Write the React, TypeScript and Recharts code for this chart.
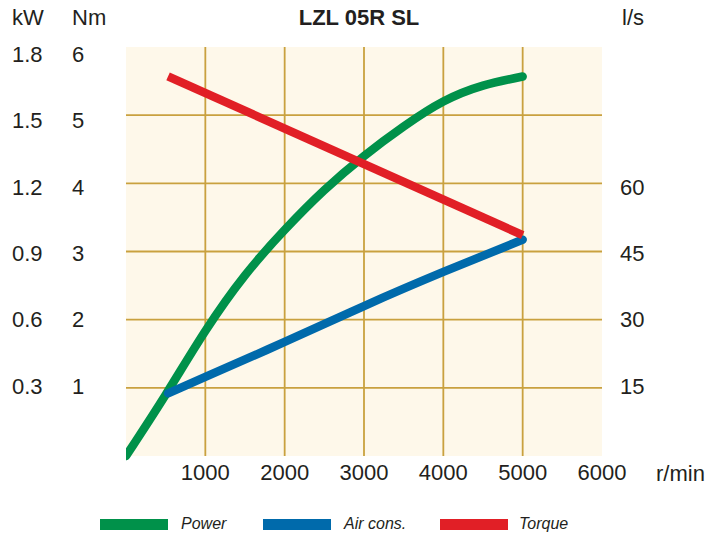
import React from "react";
import { CartesianGrid, ComposedChart, Line, XAxis, YAxis } from "recharts";

// rpm ticks and gridlines
const rpmTicks = [1000, 2000, 3000, 4000, 5000, 6000];
const rpmGrid = [1000, 2000, 3000, 4000, 5000];
const kwTicks = [0.3, 0.6, 0.9, 1.2, 1.5, 1.8];
const nmTicks = [1, 2, 3, 4, 5, 6];
const nmGrid = [1, 2, 3, 4, 5];
const lsTicks = [15, 30, 45, 60];

// Power (kW)
const powerRpm = [0, 500, 1000, 1500, 2000, 2500, 3000, 3500, 4000, 4500, 5000];
const powerKw = [0, 0.27, 0.55, 0.795, 0.995, 1.17, 1.32, 1.45, 1.56, 1.63, 1.67];

// Air consumption (l/s)
const airRpm = [530, 1000, 2000, 3000, 4000, 5000];
const airLs = [13.8, 17.4, 25.1, 33.0, 40.5, 47.6];

// Torque (Nm)
const torqueRpm = [530, 5000];
const torqueNm = [5.57, 3.24];

const powerData = powerRpm.map((rpm, i) => ({ rpm, kw: powerKw[i] }));
const airData = airRpm.map((rpm, i) => ({ rpm, ls: airLs[i] }));
const torqueData = torqueRpm.map((rpm, i) => ({ rpm, nm: torqueNm[i] }));

const FONT = '"Liberation Sans", Arial, sans-serif';
const INK = "#231f20";
const GREEN = "#00914a";
const BLUE = "#006aab";
const RED = "#e11f26";

// labels drift a little against the grid in the original
const drift = (step: number) => step * 1.8 - 1.5;

const yTick = (x: number, unit: number, fmt: (v: number) => string) => (props: any) => {
  const v = props.payload.value;
  return (
    <text
      x={x}
      y={props.y + drift(v / unit - 1)}
      dominantBaseline="central"
      textAnchor="start"
      fontFamily={FONT}
      fontSize={22}
      fill={INK}
    >
      {fmt(v)}
    </text>
  );
};

const xTick = (props: any) => (
  <text
    x={props.x}
    y={472}
    dominantBaseline="central"
    textAnchor="middle"
    fontFamily={FONT}
    fontSize={22}
    fill={INK}
  >
    {props.payload.value}
  </text>
);

const label = (left: number, cy: number, size: number, extra: React.CSSProperties = {}) => ({
  position: "absolute" as const,
  left,
  top: cy,
  transform: "translateY(-50%)",
  lineHeight: 1,
  fontSize: size,
  fontFamily: FONT,
  color: INK,
  whiteSpace: "nowrap" as const,
  ...extra,
});

const legend = [
  { name: "Power", color: GREEN, bar: 100, text: 181 },
  { name: "Air cons.", color: BLUE, bar: 263, text: 344 },
  { name: "Torque", color: RED, bar: 440, text: 519 },
];

export default function App() {
  return (
    <div style={{ position: "absolute", left: 0, top: 0, width: 721, height: 535, background: "#fff" }}>
      <ComposedChart width={721} height={535} margin={{ top: 47, right: 0, bottom: 0, left: 0 }}>
        <CartesianGrid
          yAxisId="nm"
          horizontalValues={nmGrid}
          verticalValues={rpmGrid}
          stroke="#c9a13f"
          strokeWidth={1.8}
          fill="#fef8ea"
        />
        <XAxis
          dataKey="rpm"
          type="number"
          domain={[0, 6000]}
          ticks={rpmTicks}
          height={79}
          axisLine={false}
          tickLine={false}
          tick={xTick}
          allowDataOverflow
        />
        <YAxis
          yAxisId="kw"
          orientation="left"
          width={63}
          domain={[0, 1.8]}
          ticks={kwTicks}
          axisLine={false}
          tickLine={false}
          tick={yTick(12, 0.3, (v) => v.toFixed(1))}
        />
        <YAxis
          yAxisId="nm"
          orientation="left"
          width={63}
          domain={[0, 6]}
          ticks={nmTicks}
          axisLine={false}
          tickLine={false}
          tick={yTick(72, 1, (v) => String(v))}
        />
        <YAxis
          yAxisId="ls"
          orientation="right"
          width={119}
          domain={[0, 90]}
          ticks={lsTicks}
          axisLine={false}
          tickLine={false}
          tick={yTick(620, 15, (v) => String(v))}
        />
        <Line
          yAxisId="kw"
          data={powerData}
          dataKey="kw"
          type="natural"
          stroke={GREEN}
          strokeWidth={8.5}
          strokeLinecap="round"
          dot={false}
          activeDot={false}
          isAnimationActive={false}
        />
        <Line
          yAxisId="ls"
          data={airData}
          dataKey="ls"
          type="natural"
          stroke={BLUE}
          strokeWidth={8.5}
          strokeLinecap="round"
          dot={false}
          activeDot={false}
          isAnimationActive={false}
        />
        <Line
          yAxisId="nm"
          data={torqueData}
          dataKey="nm"
          type="linear"
          stroke={RED}
          strokeWidth={8.5}
          strokeLinecap="butt"
          dot={false}
          activeDot={false}
          isAnimationActive={false}
        />
      </ComposedChart>

      <div style={label(12, 18, 22)}>kW</div>
      <div style={label(72, 18, 22)}>Nm</div>
      <div style={label(359, 18, 22, { fontWeight: "bold", transform: "translate(-50%, -50%)" })}>LZL 05R SL</div>
      <div style={label(622, 18, 22)}>l/s</div>
      <div style={label(656, 474, 22)}>r/min</div>

      {legend.map((l) => (
        <React.Fragment key={l.name}>
          <div style={{ position: "absolute", left: l.bar, top: 519, width: 68, height: 11, background: l.color }} />
          <div style={label(l.text, 524, 16, { fontStyle: "italic" })}>{l.name}</div>
        </React.Fragment>
      ))}
    </div>
  );
}
